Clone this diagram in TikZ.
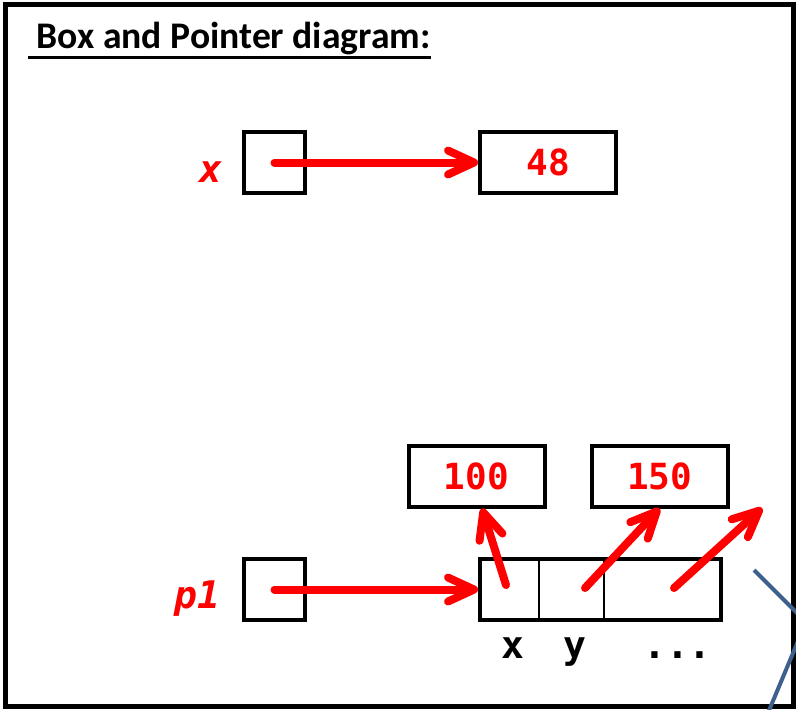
\documentclass[tikz,border=0pt]{standalone}
\usepackage{fontspec}
\setmainfont{Carlito}
\newfontfamily\codefont{DejaVu Sans Mono}
\usetikzlibrary{arrows.meta}
\definecolor{lineblue}{RGB}{62,96,140}

\begin{document}
\begin{tikzpicture}[x=0.5pt, y=-0.5pt,
    cell/.style={draw=black, line width=2pt, minimum width=30.5pt, minimum height=30.5pt, inner sep=0pt},
    valbox/.style={cell, minimum width=68pt, text=red, font=\codefont\bfseries\fontsize{18}{18}\selectfont},
    pointer/.style={draw=red, line width=4pt, line cap=round, -{Straight Barb[length=13pt, width=12pt, round]}},
    varname/.style={text=red, inner sep=0pt, anchor=base, font=\codefont\bfseries\itshape\fontsize{19}{19}\selectfont},
    fieldname/.style={inner sep=0pt, anchor=base, font=\codefont\bfseries\fontsize{19}{19}\selectfont}
]
\useasboundingbox (0,0) rectangle (796,709);
\clip (0,0) rectangle (796,709);

% -------- Marco y titulo --------
\draw[line width=2.5pt] (5.5,4) rectangle (793.5,706.5);
\node[anchor=base west, inner sep=0pt, font=\bfseries\fontsize{18.8}{18.8}\selectfont] (title) at (28,48) {\ Box and Pointer diagram:};
\draw[line width=1.5pt] ([yshift=-4.8pt]title.base west) -- ([yshift=-4.8pt]title.base east);

% -------- Primer puntero: x --> 48 --------
\node[varname] (xname) at (211,182) {x};
\node[cell] (xbox) at (274.5,162.5) {};
\node[valbox] (v48) at (548,162.5) {48};
\draw[pointer] (xbox.center) -- (v48);

% -------- Segundo puntero: p1 --> objeto --------
\node[varname] (pname) at (197,608) {p1};
\node[cell] (pbox) at (274.5,589.5) {};
\node[cell, minimum width=120.5pt] (obj) at (600.5,589.5) {};
\draw[line width=1pt] (539,557) -- (539,622); % divisiones
\draw[line width=1pt] (604,557) -- (604,622);

\node[fieldname] (fx) at (513,658) {x};
\node[fieldname] (fy) at (575,658) {y};
\node[fieldname] (frest) at (677.5,658) {...};

\node[valbox] (v100) at (476.5,476) {100};
\node[valbox] (v150) at (659.5,476) {150};

\coordinate (sx) at (506,585);
\coordinate (sy) at (585,588);
\coordinate (sr) at (674,588);
\coordinate (er) at (762,508); % extremo libre

\draw[pointer] (pbox.center) -- (obj);
\draw[pointer] (sx) -- ([xshift=2.75pt]v100.south);
\draw[pointer] (sy) -- (v150.south);
\draw[pointer] (sr) -- (er);

% Linea azul que sale del marco
\draw[lineblue, line width=2pt] (754,570) -- (806,622) -- (765,720);
\end{tikzpicture}
\end{document}
